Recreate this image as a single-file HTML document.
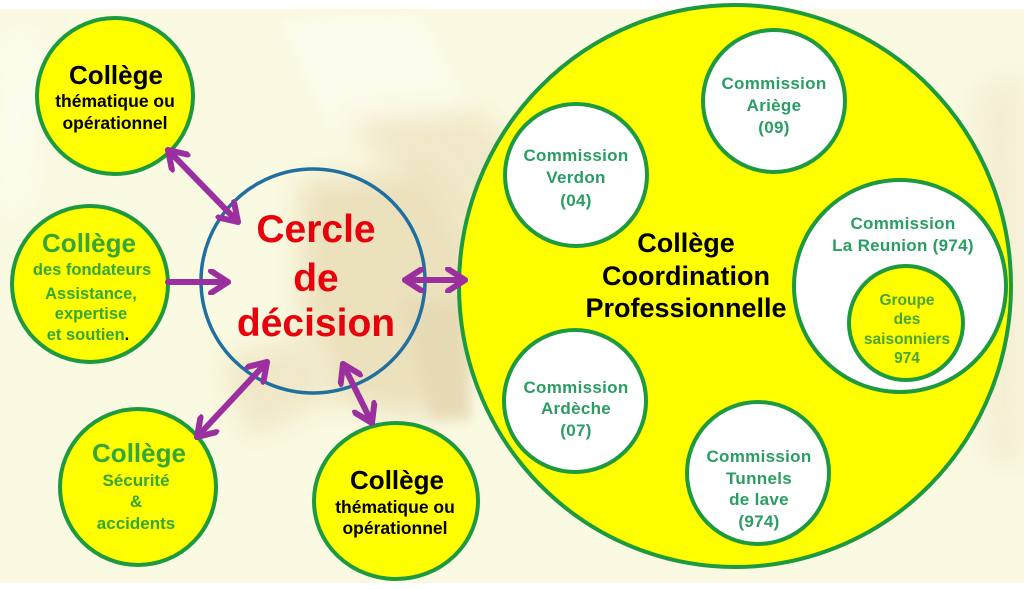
<!DOCTYPE html>
<html><head><meta charset="utf-8">
<style>
html,body{margin:0;padding:0;background:#fff;}
svg{display:block;}
text{font-family:"Liberation Sans",Arial,sans-serif;font-weight:bold;}
</style></head>
<body>
<svg width="1024" height="589" viewBox="0 0 1024 589" xmlns="http://www.w3.org/2000/svg">
<defs>
<filter id="bl" x="-50%" y="-50%" width="200%" height="200%"><feGaussianBlur stdDeviation="14"/></filter>
<filter id="bl2" x="-50%" y="-50%" width="200%" height="200%"><feGaussianBlur stdDeviation="6"/></filter>
<marker id="h" viewBox="0 0 26 26" refX="21" refY="13" markerWidth="26" markerHeight="26" markerUnits="userSpaceOnUse" orient="auto-start-reverse">
<path d="M4,2 L21,13 L4,24" fill="none" stroke="#9c2f9f" stroke-width="6" stroke-linecap="round" stroke-linejoin="round"/>
</marker>
</defs>
<rect x="0" y="0" width="1024" height="589" fill="#ffffff"/>
<rect x="0" y="9" width="1024" height="574" fill="#fafae2"/>
<!-- faint photo background -->
<g opacity="0.85">
<path d="M280,20 L420,15 L470,110 L420,140 L330,130 Z" fill="#fcfcee" filter="url(#bl2)"/>
<path d="M345,120 L480,110 L560,200 L560,330 L470,330 L420,200 Z" fill="#efe4c3" filter="url(#bl)"/>
<path d="M300,180 L430,170 L470,260 L470,360 L420,420 L330,400 L300,300 Z" fill="#e9dcb6" filter="url(#bl)"/>
<path d="M400,300 L470,300 L470,420 L430,420 Z" fill="#e3d5ae" filter="url(#bl2)"/>
<path d="M220,360 L320,330 L330,400 L250,440 Z" fill="#eee4c2" filter="url(#bl)"/>
<path d="M975,90 L1024,70 L1024,470 L985,460 Z" fill="#f3ebd0" filter="url(#bl)"/>
<path d="M0,40 L40,30 L30,200 L0,220 Z" fill="#fdfdf2" filter="url(#bl)"/>
</g>

<!-- big right circle -->
<ellipse cx="735" cy="286" rx="276" ry="281" fill="#ffff00" stroke="#1e9a3e" stroke-width="4"/>

<!-- commissions -->
<g fill="#ffffff" stroke="#1e9a3e" stroke-width="4">
<circle cx="774" cy="101" r="71"/>
<circle cx="576" cy="175" r="71"/>
<circle cx="900" cy="286" r="106"/>
<circle cx="575" cy="401" r="71"/>
<circle cx="758" cy="473" r="71"/>
</g>
<circle cx="906" cy="323" r="57" fill="#ffff00" stroke="#1e9a3e" stroke-width="4"/>

<g fill="#2a9d62" font-size="17" text-anchor="middle" letter-spacing="0.3">
<text x="774" y="89">Commission</text>
<text x="774" y="111">Ariège</text>
<text x="774" y="133">(09)</text>
<text x="576" y="161">Commission</text>
<text x="576" y="183">Verdon</text>
<text x="576" y="206">(04)</text>
<text x="903" y="229">Commission</text>
<text x="903" y="251">La Reunion (974)</text>
<text x="576" y="393">Commission</text>
<text x="576" y="414">Ardèche</text>
<text x="576" y="436">(07)</text>
<text x="759" y="462">Commission</text>
<text x="759" y="484">Tunnels</text>
<text x="759" y="505">de lave</text>
<text x="759" y="527">(974)</text>
</g>
<g fill="#4aa532" font-size="15.5" text-anchor="middle">
<text x="907" y="305">Groupe</text>
<text x="907" y="324">des</text>
<text x="907" y="344">saisonniers</text>
<text x="907" y="363">974</text>
</g>
<g fill="#000" font-size="27" text-anchor="middle">
<text x="686" y="252">Collège</text>
<text x="686" y="285">Coordination</text>
<text x="686" y="317">Professionnelle</text>
</g>

<!-- central circle -->
<circle cx="313" cy="281" r="112" fill="none" stroke="#1f6fa0" stroke-width="3.5"/>
<g fill="#e8000b" font-size="39" text-anchor="middle">
<text x="316" y="242">Cercle</text>
<text x="316" y="291">de</text>
<text x="316" y="336">décision</text>
</g>

<!-- satellite colleges -->
<g fill="#ffff00" stroke="#1e9a3e" stroke-width="4">
<circle cx="115" cy="96" r="78"/>
<circle cx="90" cy="284" r="78"/>
<circle cx="138" cy="487" r="78"/>
<ellipse cx="396" cy="501" rx="82" ry="78"/>
</g>

<g fill="#000" text-anchor="middle">
<text x="116" y="84" font-size="26">Collège</text>
<text x="115" y="107" font-size="17.5">thématique ou</text>
<text x="115" y="129" font-size="17.5">opérationnel</text>
<text x="397" y="489" font-size="26">Collège</text>
<text x="395" y="513" font-size="17.5">thématique ou</text>
<text x="395" y="534" font-size="17.5">opérationnel</text>
</g>
<g fill="#35a637" text-anchor="middle">
<text x="89" y="252" font-size="26">Collège</text>
<text x="92" y="275" font-size="16.5">des fondateurs</text>
<text x="91" y="299" font-size="16.5">Assistance,</text>
<text x="91" y="319" font-size="16.5">expertise</text>
<text x="88" y="340" font-size="16.5">et soutien<tspan fill="#000">.</tspan></text>
<text x="139" y="462" font-size="26">Collège</text>
<text x="136" y="486" font-size="17">Sécurité</text>
<text x="136" y="507" font-size="17">&amp;</text>
<text x="136" y="529" font-size="17">accidents</text>
</g>

<!-- arrows -->
<g stroke="#9c2f9f" stroke-width="6" stroke-linecap="round" fill="none">
<line x1="168" y1="150" x2="238" y2="222" marker-start="url(#h)" marker-end="url(#h)"/>
<line x1="168" y1="282" x2="228" y2="282" marker-end="url(#h)"/>
<line x1="405" y1="280" x2="465" y2="280" marker-start="url(#h)" marker-end="url(#h)"/>
<line x1="197" y1="437" x2="267" y2="362" marker-start="url(#h)" marker-end="url(#h)"/>
<line x1="343" y1="364" x2="372" y2="423" marker-start="url(#h)" marker-end="url(#h)"/>
</g>
</svg>
</body></html>
